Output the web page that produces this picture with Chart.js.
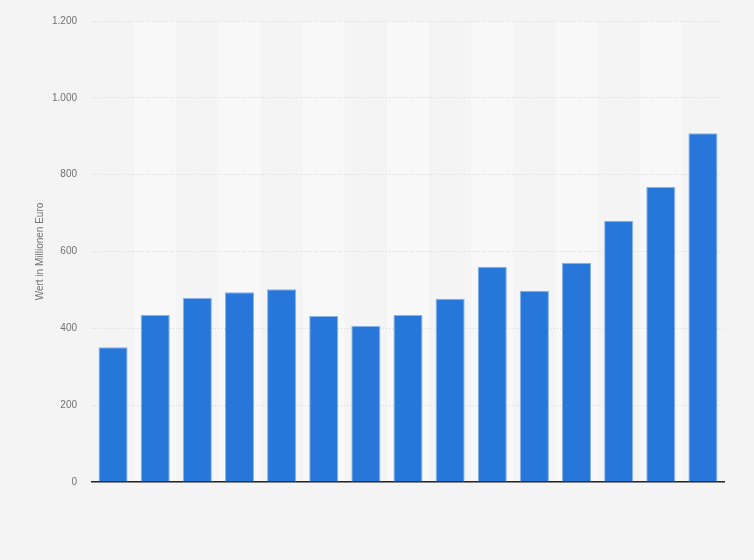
<!DOCTYPE html>
<html>
<head>
<meta charset="utf-8">
<script src="https://cdn.jsdelivr.net/npm/chart.js@4"></script>
<style>
  html, body { margin: 0; padding: 0; background: #f4f4f4; }
  #wrap { width: 754px; height: 560px; }
</style>
</head>
<body>
<div id="wrap"><canvas id="myChart"></canvas></div>
<script>
// Jahre sind im Original nicht beschriftet
var years = ['1', '2', '3', '4', '5', '6', '7', '8', '9', '10', '11', '12', '13', '14', '15'];
var values = [351, 435, 479, 494, 502, 432, 406, 435, 477, 560, 498, 571, 680, 768, 908];
var yTicks = [0, 200, 400, 600, 800, 1000, 1200];

// abwechselnde helle Spalten hinter Gitter und Balken
var stripes = {
  id: 'stripes',
  beforeDraw: function (chart) {
    var x = chart.scales.x, area = chart.chartArea, c = chart.ctx;
    var w = x.width / years.length;
    c.save();
    c.fillStyle = '#f8f8f8';
    for (var i = 1; i < years.length; i += 2) {
      var px = x.getPixelForValue(i);
      c.fillRect(px - w / 2, area.top, w, area.bottom - area.top);
    }
    c.restore();
  }
};

Chart.defaults.font.family = '"Liberation Sans", Arial, sans-serif';
Chart.defaults.font.size = 10;

var ctx = document.getElementById('myChart');
var myChart = new Chart(ctx, {
  type: 'bar',
  data: {
    labels: years,
    datasets: [{
      label: 'Wert in Millionen Euro',
      data: values,
      backgroundColor: '#2776d9',
      borderColor: '#8ab3e8',
      borderWidth: 1,
      barPercentage: 0.69,
      categoryPercentage: 1
    }]
  },
  options: {
    responsive: true,
    maintainAspectRatio: false,
    animation: false,
    layout: { padding: { left: 0, right: 30, top: 14, bottom: 78 } },
    plugins: { legend: { display: false }, tooltip: { enabled: false } },
    scales: {
      x: {
        grid: { display: false, drawTicks: false },
        border: { display: true, color: '#222', width: 1.5 },
        ticks: { display: false }
      },
      y: {
        min: 0,
        max: 1200,
        afterBuildTicks: function (scale) {
          scale.ticks = yTicks.map(function (v) { return { value: v }; });
        },
        afterFit: function (scale) { scale.width = 92; },
        grid: { color: '#d6d6d6', drawTicks: false, lineWidth: 1 },
        border: { display: false, dash: [1, 2] },
        ticks: {
          color: '#707070',
          padding: 15,
          callback: function (v) { return v.toLocaleString('de-DE'); }
        },
        title: {
          display: true,
          text: 'Wert in Millionen Euro',
          color: '#707070',
          font: { size: 10 },
          padding: { top: 34, bottom: 0 }
        }
      }
    }
  },
  plugins: [stripes]
});
</script>
</body>
</html>
